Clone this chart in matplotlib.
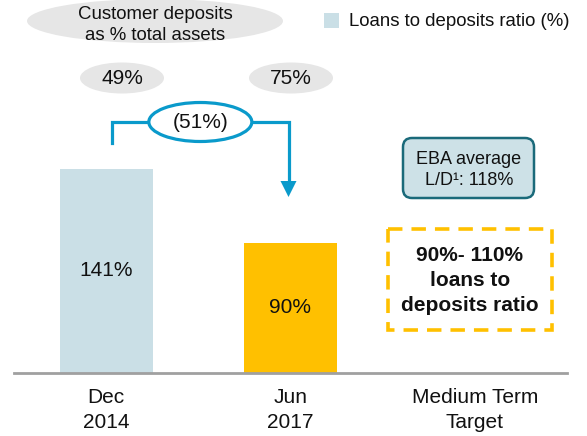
import matplotlib.pyplot as plt
from matplotlib.patches import Ellipse, Rectangle, FancyBboxPatch, Polygon

plt.rcParams['font.family'] = ['Liberation Sans', 'DejaVu Sans']

# Data
categories = ["Dec\n2014", "Jun\n2017", "Medium Term\nTarget"]
loans_to_deposits = [141, 90]
deposits_share = [49, 75]
deposits_change = -51
eba_average = 118
target_range = (90, 110)

bar_colors = ['#cadfe6', '#ffc000']
blue = '#0a9acb'
grey = '#e6e6e6'

W, H = 587, 436
fig = plt.figure(figsize=(W / 100, H / 100), dpi=100)

# main axes: baseline at y=373px, x from 14px to 567px
ymax = 250
px_per_unit = 204 / 141
ax = fig.add_axes([14 / W, (H - 373) / H, 553 / W, ymax * px_per_unit / H])
x = list(range(len(categories)))
bars = ax.bar(x[:len(loans_to_deposits)], loans_to_deposits, width=0.505,
              color=bar_colors)
ax.bar_label(bars, labels=[f'{v}%' for v in loans_to_deposits],
             label_type='center', fontsize=15, color='#111111')
ax.set_xlim(-0.5, 2.5)
ax.set_ylim(0, ymax)
ax.set_xticks(x)
ax.set_xticklabels(categories, fontsize=15, linespacing=1.38, color='#111111')
ax.tick_params(axis='x', length=0, pad=11)
ax.set_yticks([])
for s in ['top', 'left', 'right']:
    ax.spines[s].set_visible(False)
ax.spines['bottom'].set_color('#a0a0a0')
ax.spines['bottom'].set_linewidth(2)

# overlay in pixel coordinates (origin top-left)
ov = fig.add_axes([0, 0, 1, 1], zorder=5)
ov.set_xlim(0, W)
ov.set_ylim(H, 0)
ov.axis('off')


def px_x(xv):
    return ax.transData.transform((xv, 0))[0]


# customer deposits header
ov.add_patch(Ellipse((155, 21), 256, 44, color=grey, lw=0))
ov.text(155, 25, 'Customer deposits\nas % total assets', ha='center',
        va='center', fontsize=13.4, linespacing=1.3, color='#111111')

for cx, v in zip([122, 291], deposits_share):
    ov.add_patch(Ellipse((cx, 78), 84, 31, color=grey, lw=0))
    ov.text(cx, 78, f'{v}%', ha='center', va='center', fontsize=15,
            color='#111111')

# bracket with arrow
xl = px_x(0) + 6
xr = px_x(1) - 2
ov.plot([xl, xl, xr, xr], [143, 122, 122, 184], color=blue, lw=2.3,
        solid_joinstyle='miter', zorder=2)
ov.add_patch(Polygon([[xr - 8, 181], [xr + 8, 181], [xr, 197]],
                     closed=True, color=blue, lw=0, zorder=2))
ov.add_patch(Ellipse(((xl + xr) / 2, 122), 103, 39, facecolor='white',
                     edgecolor=blue, lw=2.3, zorder=3))
ov.text((xl + xr) / 2, 122, f'({abs(deposits_change)}%)', ha='center',
        va='center', fontsize=15, color='#111111', zorder=4)

# legend
ov.add_patch(Rectangle((324, 13), 15, 15, color=bar_colors[0], lw=0))
ov.text(349, 21, 'Loans to deposits ratio (%)', ha='left', va='center',
        fontsize=13.4, color='#111111')

# EBA average box
ov.add_patch(FancyBboxPatch((403, 138), 131, 60,
                            boxstyle='round,pad=0,rounding_size=9',
                            facecolor='#cde1e7', edgecolor='#1a6a7a', lw=1.8))
ov.text(469, 159, 'EBA average', ha='center', va='center', fontsize=13,
        color='#111111')
ov.text(469, 180, f'L/D¹: {eba_average}%', ha='center', va='center',
        fontsize=13, color='#111111')

# target box
ov.add_patch(Rectangle((388, 229), 164, 101, facecolor='none',
                       edgecolor='#ffc000', lw=2.6, linestyle=(0, (4, 2.5))))
ov.text(470, 280,
        f'{target_range[0]}%- {target_range[1]}%\nloans to\ndeposits ratio',
        ha='center', va='center', fontsize=15, fontweight='bold',
        linespacing=1.4, color='#111111')

fig.savefig('out.png', dpi=100)
